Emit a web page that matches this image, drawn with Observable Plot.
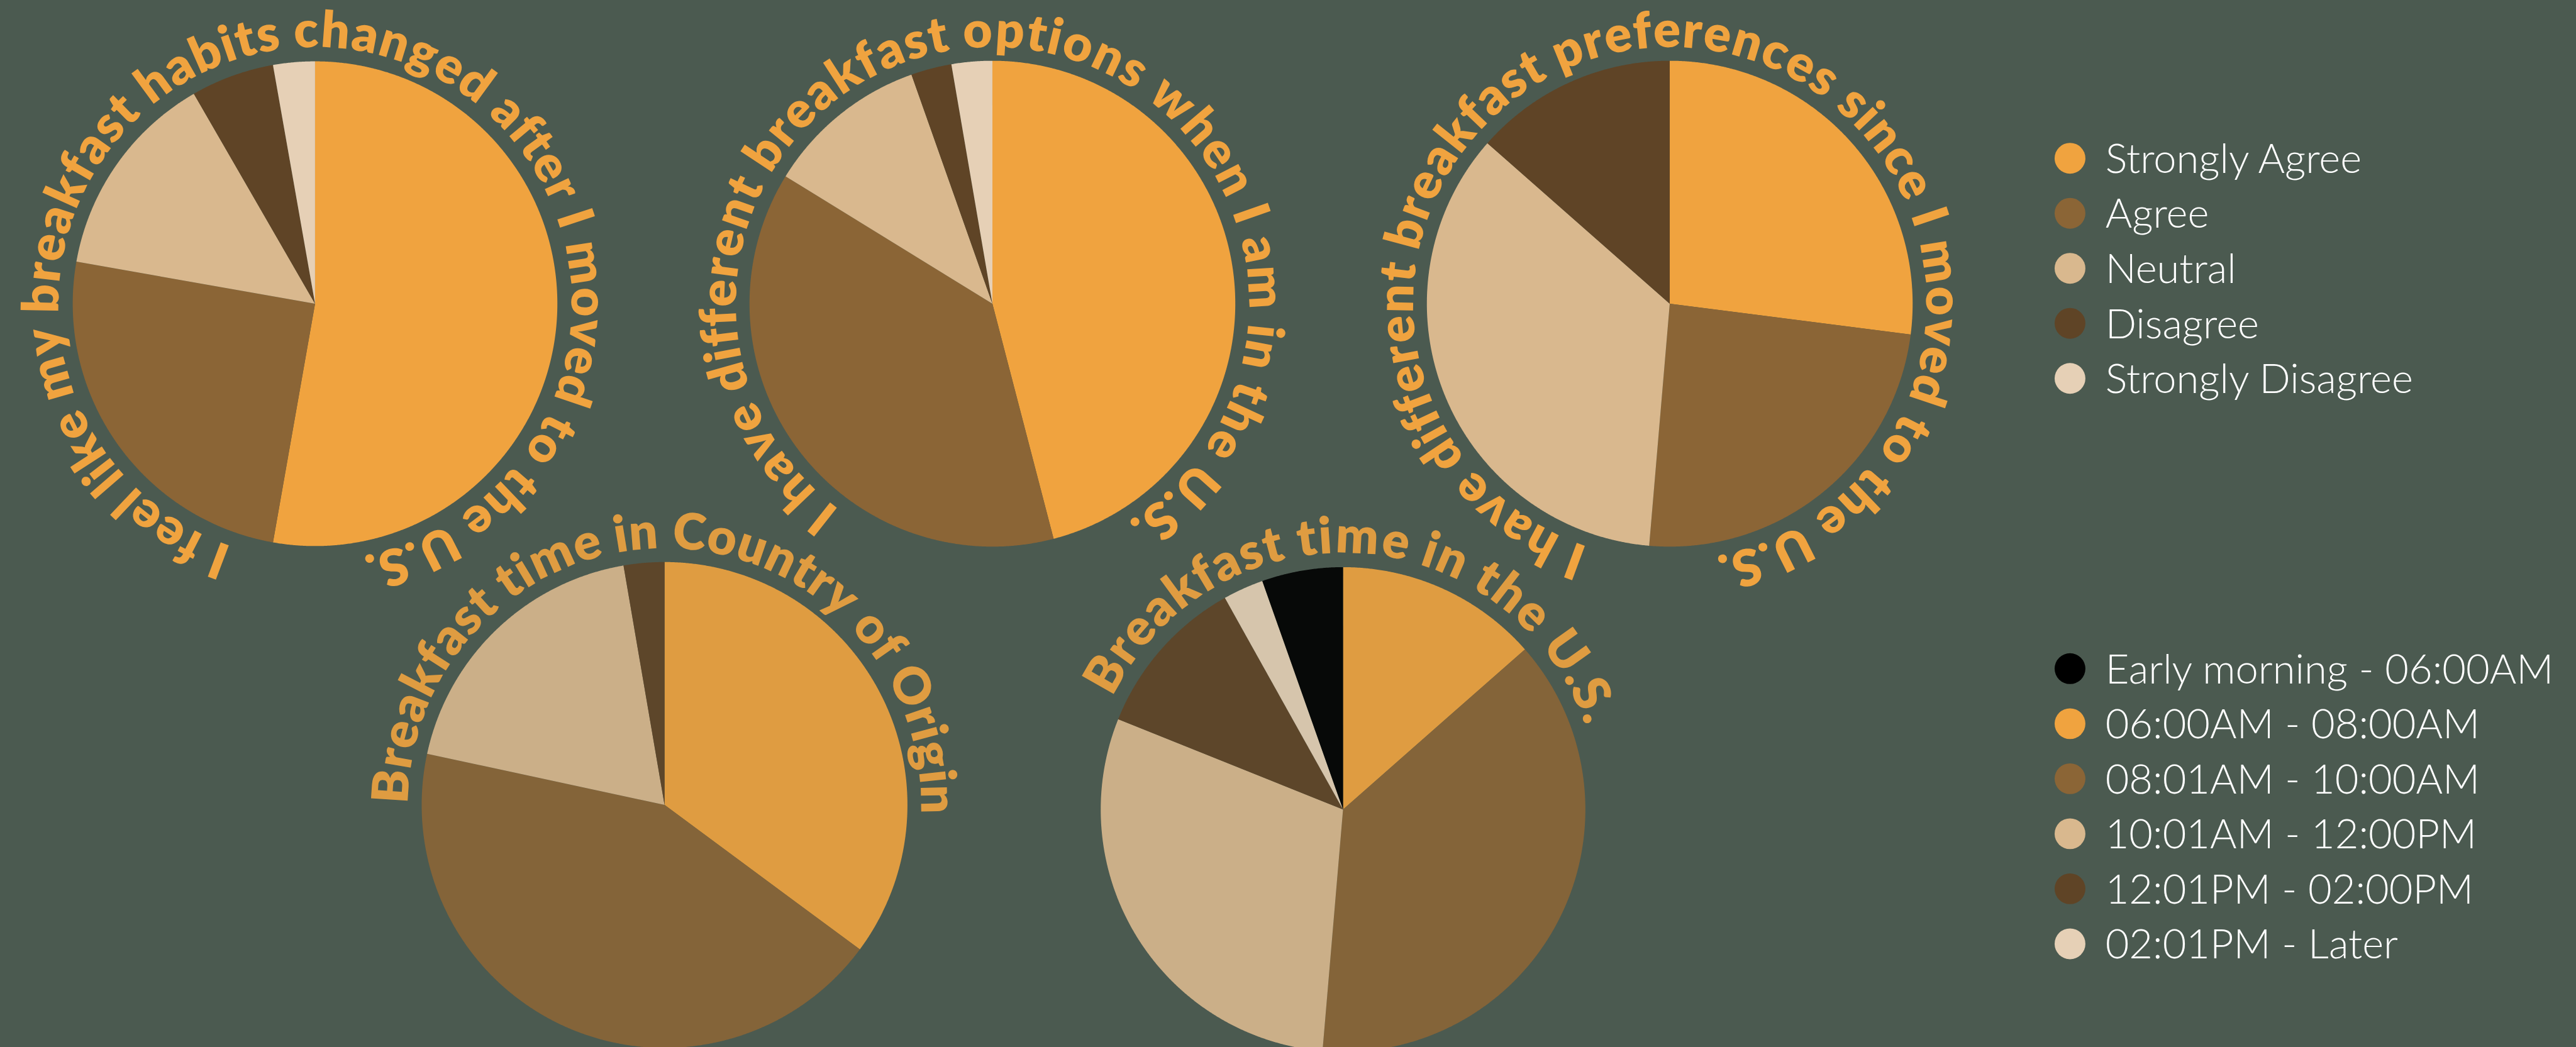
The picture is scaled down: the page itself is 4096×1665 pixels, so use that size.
<!DOCTYPE html>
<html>
<head>
<meta charset="utf-8">
<script src="https://cdn.jsdelivr.net/npm/d3@7"></script>
<script src="https://cdn.jsdelivr.net/npm/@observablehq/plot@0.6"></script>
<style>
html,body{margin:0;padding:0;background:#4B5A50;overflow:hidden;}
#chart svg{display:block;}
</style>
</head>
<body>
<div id="chart"></div>
<script>
// ---------- DATA ----------
const agreementCategories = ["Strongly Agree", "Agree", "Neutral", "Disagree", "Strongly Disagree"];
const timeCategories = ["Early morning - 06:00AM", "06:00AM - 08:00AM", "08:01AM - 10:00AM", "10:01AM - 12:00PM", "12:01PM - 02:00PM", "02:01PM - Later"];
// order in which time slices are drawn clockwise from 12 o'clock
const timeSliceOrder = ["06:00AM - 08:00AM", "08:01AM - 10:00AM", "10:01AM - 12:00PM", "12:01PM - 02:00PM", "02:01PM - Later", "Early morning - 06:00AM"];

const habitsChanged = [19, 9, 5, 2, 1];          // agreement order
const optionsDifferent = [17, 14, 4, 1, 1];
const preferencesDifferent = [10, 9, 13, 5, 0];
const timeCountryOfOrigin = [13, 16, 7, 1, 0, 0]; // timeSliceOrder
const timeInUS = [5, 14, 11, 4, 1, 2];            // timeSliceOrder

const chartTitles = [
  "I feel like my breakfast habits changed after I moved to the U.S.",
  "I have different breakfast options when I am in the U.S.",
  "I have different breakfast preferences since I moved to the U.S.",
  "Breakfast time in Country of Origin",
  "Breakfast time in the U.S."
];

const agreementColors = ["#F0A33F", "#8B6536", "#D9B88E", "#5F4426", "#E6D0B6"];
const timeColors = ["#000000", "#F0A33F", "#8B6536", "#D9B88E", "#5F4426", "#E6D0B6"];

// ---------- LAYOUT (reference pixel units) ----------
const REF_W = 4518, REF_H = 1836;
const W = 4096, H = 1665;
const S = W / REF_W;
const layout = [
  {cx: 552,  cy: 532,  r: 425, a0: -159.4, a1: 167.9, faded: false},
  {cx: 1740, cy: 532,  r: 426, a0: -141.7, a1: 146.8, faded: false},
  {cx: 2928, cy: 532,  r: 426, a0: -159.7, a1: 168.3, faded: false},
  {cx: 1165, cy: 1411, r: 426, a0: -86.1,  a1: 88.8,  faded: true},
  {cx: 2355, cy: 1419, r: 425, a0: -60.3,  a1: 69.6,  faded: true}
];
const pieSeries = [
  {cats: agreementCategories, vals: habitsChanged},
  {cats: agreementCategories, vals: optionsDifferent},
  {cats: agreementCategories, vals: preferencesDifferent},
  {cats: timeSliceOrder, vals: timeCountryOfOrigin},
  {cats: timeSliceOrder, vals: timeInUS}
];
const TEXT_R = 450;
const TITLE_SIZE = 80;
const TITLE_WEIGHT = 800;
const LEGEND_SIZE = 65;

// ---------- build slice polygons ----------
const slicePts = [];
pieSeries.forEach((ps, pi) => {
  const L = layout[pi];
  const arcs = d3.pie().sort(null).value(d => d.v)(ps.cats.map((c, j) => ({c, v: ps.vals[j]})));
  arcs.forEach((a, j) => {
    if (a.endAngle - a.startAngle <= 0) return;
    const key = pi + "-" + j;
    const faded = L.faded;
    slicePts.push({key, cat: a.data.c, x: L.cx, y: L.cy, faded});
    const n = Math.max(2, Math.ceil((a.endAngle - a.startAngle) / (Math.PI / 720)));
    for (let k = 0; k <= n; k++) {
      const t = a.startAngle + (a.endAngle - a.startAngle) * k / n;
      slicePts.push({key, cat: a.data.c, x: L.cx + L.r * Math.sin(t), y: L.cy - L.r * Math.cos(t), faded});
    }
    slicePts.push({key, cat: a.data.c, x: L.cx, y: L.cy, faded});
  });
});

// ---------- build curved title glyphs ----------
const ctx = document.createElement("canvas").getContext("2d");
ctx.font = `${TITLE_WEIGHT} ${TITLE_SIZE}px Lato`;
const titleGlyphs = [];
chartTitles.forEach((t, pi) => {
  const L = layout[pi];
  const chars = Array.from(t);
  const centers = chars.map((ch, i) => {
    const w0 = ctx.measureText(chars.slice(0, i).join("")).width;
    const w1 = ctx.measureText(chars.slice(0, i + 1).join("")).width;
    return (w0 + w1) / 2;
  });
  const c0 = centers[0], c1 = centers[centers.length - 1];
  chars.forEach((ch, i) => {
    const deg = L.a0 + (centers[i] - c0) / (c1 - c0) * (L.a1 - L.a0);
    const rad = deg * Math.PI / 180;
    titleGlyphs.push({
      ch, rot: deg, faded: L.faded,
      x: L.cx + TEXT_R * Math.sin(rad),
      y: L.cy - TEXT_R * Math.cos(rad)
    });
  });
});

// ---------- color scale ----------
const colorDomain = [...agreementCategories, ...timeCategories];
const colorRange = [...agreementColors, ...timeColors];

const LEG_X = 3630, LEG_TX = 3692;
const leg1Y = 277, leg2Y = 1172, legStep = 96.5;

const chart = Plot.plot({
  width: W, height: H,
  margin: 0,
  style: {background: "#4B5A50"},
  x: {domain: [0, REF_W], range: [0, W], axis: null},
  y: {domain: [0, REF_H], range: [0, H], axis: null},
  color: {domain: colorDomain, range: colorRange},
  marks: [
    Plot.line(slicePts.filter(d => !d.faded), {x: "x", y: "y", z: "key", fill: "cat", stroke: "none", curve: "linear"}),
    Plot.line(slicePts.filter(d => d.faded), {x: "x", y: "y", z: "key", fill: "cat", stroke: "none", fillOpacity: 0.9, curve: "linear"}),
    Plot.text(titleGlyphs.filter(d => !d.faded), {
      x: "x", y: "y", text: "ch", rotate: "rot", fill: "#F0A33F",
      fontSize: TITLE_SIZE, fontWeight: TITLE_WEIGHT, fontFamily: "Lato",
      lineAnchor: "bottom", textAnchor: "middle"
    }),
    Plot.text(titleGlyphs.filter(d => d.faded), {
      x: "x", y: "y", text: "ch", rotate: "rot", fill: "#F0A33F", fillOpacity: 0.9,
      fontSize: TITLE_SIZE, fontWeight: TITLE_WEIGHT, fontFamily: "Lato",
      lineAnchor: "bottom", textAnchor: "middle"
    }),
    // legends
    Plot.dot(agreementCategories, {x: () => LEG_X, y: (d, i) => leg1Y + i * legStep, fill: d => d, r: 27 * S, stroke: "none"}),
    Plot.text(agreementCategories, {
      x: () => LEG_TX, y: (d, i) => leg1Y + i * legStep, text: d => d,
      textAnchor: "start", lineAnchor: "bottom", dy: 0.358 * LEGEND_SIZE,
      fill: "#FFFFFF", fontSize: LEGEND_SIZE, fontWeight: 300, fontFamily: "Lato"
    }),
    Plot.dot(timeCategories, {x: () => LEG_X, y: (d, i) => leg2Y + i * legStep, fill: d => d, r: 27 * S, stroke: "none"}),
    Plot.text(timeCategories, {
      x: () => LEG_TX, y: (d, i) => leg2Y + i * legStep, text: d => d,
      textAnchor: "start", lineAnchor: "bottom", dy: 0.358 * LEGEND_SIZE,
      fill: "#FFFFFF", fontSize: LEGEND_SIZE, fontWeight: 300, fontFamily: "Lato"
    })
  ]
});
document.getElementById("chart").appendChild(chart);
</script>
</body>
</html>
